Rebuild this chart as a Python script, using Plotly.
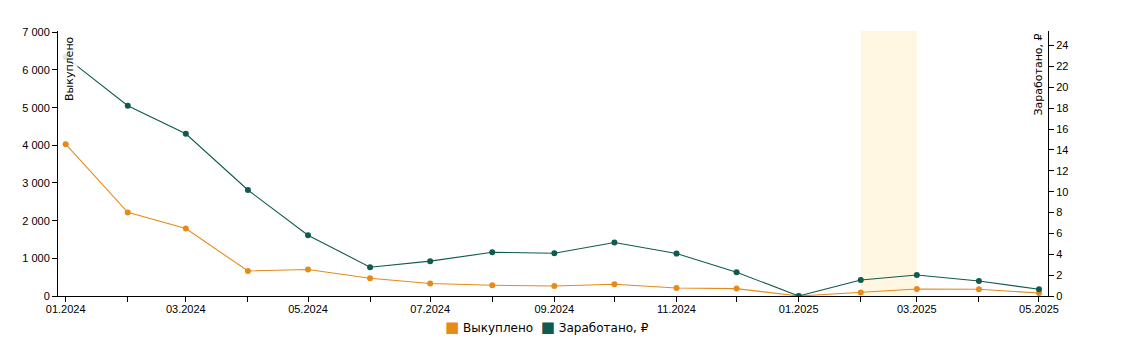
import plotly.graph_objects as go

months = ["2024-01-01", "2024-02-01", "2024-03-01", "2024-04-01", "2024-05-01",
          "2024-06-01", "2024-07-01", "2024-08-01", "2024-09-01", "2024-10-01",
          "2024-11-01", "2024-12-01", "2025-01-01", "2025-02-01", "2025-03-01",
          "2025-04-01", "2025-05-01"]
month_labels = ["01.2024", "02.2024", "03.2024", "04.2024", "05.2024", "06.2024",
                "07.2024", "08.2024", "09.2024", "10.2024", "11.2024", "12.2024",
                "01.2025", "02.2025", "03.2025", "04.2025", "05.2025"]
bought = [4030, 2220, 1790, 665, 702, 470, 330, 284, 266, 311, 213, 197,
          0, 90, 186, 178, 80]
earned = [22.9, 18.24, 15.55, 10.16, 5.83, 2.76, 3.34, 4.19, 4.10, 5.12, 4.07, 2.28,
          0.0, 1.54, 2.02, 1.44, 0.64]
tick_labels = [m if i % 2 == 0 else "" for i, m in enumerate(month_labels)]
highlight = ("2025-02-01", "2025-03-01")
series_names = ["Выкуплено", "Заработано, ₽"]

ORANGE = "#E68A1A"
GREEN = "#0E5B50"
FONT = "DejaVu Sans"
TICKFONT = dict(family="Liberation Sans", size=11, color="#000")

fig = go.Figure()
fig.add_trace(go.Scatter(x=months, y=bought, mode="lines+markers", yaxis="y",
                         name=series_names[0],
                         line=dict(color=ORANGE, width=1.1),
                         marker=dict(color=ORANGE, size=6), showlegend=False))
fig.add_trace(go.Scatter(x=months, y=earned, mode="lines+markers", yaxis="y2",
                         name=series_names[1],
                         line=dict(color=GREEN, width=1.1),
                         marker=dict(color=GREEN, size=6), showlegend=False))

fig.add_shape(type="rect", xref="x", yref="paper", x0=highlight[0], x1=highlight[1],
              y0=0, y1=1, fillcolor="#FFF7E1", line=dict(width=0), layer="below")

fig.add_annotation(text=series_names[0], xref="paper", yref="paper", x=0.0, y=1.0,
                   xanchor="left", yanchor="top", textangle=-90, showarrow=False,
                   yshift=-3, xshift=3, bgcolor="rgba(255,255,255,0.85)",
                   font=dict(family=FONT, size=11, color="#000"))
fig.add_annotation(text=series_names[1], xref="paper", yref="paper", x=1.0, y=1.0,
                   xanchor="right", yanchor="top", textangle=-90, showarrow=False,
                   yshift=-1, xshift=-2, bgcolor="rgba(255,255,255,0.85)",
                   font=dict(family=FONT, size=11, color="#000"))

# custom legend with square swatches
legend_text = (f'<span style="color:{ORANGE};font-size:15px">■</span> {series_names[0]}'
               f'&nbsp;&nbsp;<span style="color:{GREEN};font-size:15px">■</span> {series_names[1]}')
fig.add_annotation(text=legend_text, xref="paper", yref="paper", x=0.5, y=-0.075,
                   xanchor="center", yanchor="top", showarrow=False, xshift=-6,
                   font=dict(family=FONT, size=12, color="#000"))

axis_common = dict(showgrid=False, zeroline=False, showline=True, linecolor="#000",
                   linewidth=1, ticks="outside", ticklen=5, tickcolor="#000",
                   tickfont=TICKFONT, automargin=False)

fig.update_layout(
    width=1110, height=345,
    margin=dict(l=50, r=70, t=23, b=57),
    paper_bgcolor="white", plot_bgcolor="white",
    separators=", ",
    showlegend=False,
    font=dict(family=FONT, size=11, color="#000"),
    xaxis=dict(type="date", range=["2023-12-28 04:00", "2025-05-05 12:00"],
               tickvals=months, ticktext=tick_labels, tickangle=0,
               ticklabelstandoff=-2, **axis_common),
    yaxis=dict(range=[0, 7035], dtick=1000, tickformat=",d", **axis_common),
    yaxis2=dict(range=[0, 25.4], dtick=2, overlaying="y", side="right",
                **axis_common),
)

fig.write_html("out.html")
